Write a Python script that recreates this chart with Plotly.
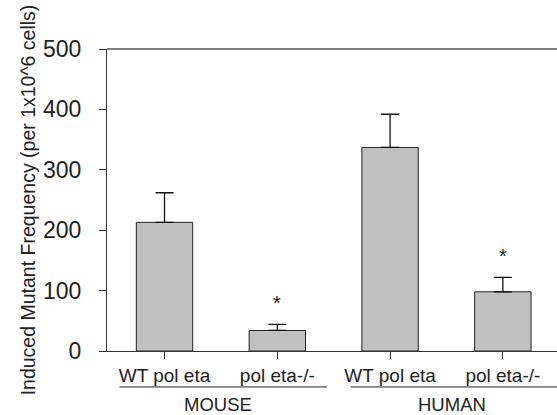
import plotly.graph_objects as go

tick_labels = ["WT pol eta", "pol eta-/-", "WT pol eta", "pol eta-/-"]
values = [213, 34, 337, 98]
errors = [49, 10, 55, 24]
significant = [False, True, False, True]
groups = ["MOUSE", "HUMAN"]
group_centers = [0.47, 2.55]
group_spans = [(-0.4, 1.44), (1.65, 3.6)]
y_ticks = [0, 100, 200, 300, 400, 500]

FONT = "Liberation Sans, Arial, sans-serif"
xpos = list(range(len(values)))

fig = go.Figure()
fig.add_trace(go.Bar(
    x=xpos, y=values, width=0.5,
    marker=dict(color="#c0c0c0", line=dict(color="#222222", width=1)),
    error_y=dict(type="data", symmetric=False, array=errors,
                 arrayminus=[0] * len(errors), color="#111111",
                 thickness=1.3, width=9),
    showlegend=False, hoverinfo="skip",
))

for i, (v, e, s) in enumerate(zip(values, errors, significant)):
    if s:
        fig.add_annotation(x=i, y=v + e, text="*", showarrow=False,
                           yanchor="bottom", yshift=8,
                           font=dict(family=FONT, size=20, color="#222"))

for g, c, (a, b) in zip(groups, group_centers, group_spans):
    fig.add_annotation(x=c, y=-0.178, xref="x", yref="paper", text=g,
                       showarrow=False, yanchor="middle",
                       font=dict(family=FONT, size=18.5, color="#222"))
    fig.add_shape(type="line", xref="x", yref="paper", x0=a, x1=b,
                  y0=-0.119, y1=-0.119, line=dict(color="#222", width=1))

# top border
fig.add_shape(type="line", xref="paper", yref="paper", x0=0, x1=1, y0=1, y1=1,
              line=dict(color="#555", width=1.5))

fig.update_layout(
    width=557, height=415,
    margin=dict(l=107, r=0, t=49, b=64),
    plot_bgcolor="white", paper_bgcolor="white",
    font=dict(family=FONT, color="#222"),
    xaxis=dict(range=[-0.51, 3.48], tickvals=xpos, ticktext=tick_labels,
               showline=True, linecolor="#333", linewidth=1,
               ticks="outside", ticklen=7, tickcolor="#333",
               tickfont=dict(size=19), showgrid=False, zeroline=False,
               fixedrange=True),
    yaxis=dict(range=[0, 500], tickvals=y_ticks,
               showline=True, linecolor="#333", linewidth=1,
               ticks="outside", ticklen=7, tickcolor="#333",
               ticklabelstandoff=13,
               tickfont=dict(size=23), showgrid=False, zeroline=False,
               title=dict(text="Induced Mutant Frequency (per 1x10^6 cells)",
                          font=dict(size=19.5), standoff=2),
               fixedrange=True),
)

fig.write_html(
    "out.html",
    config={"displayModeBar": False},
    post_script="document.body.style.margin='0';document.body.style.overflow='hidden';",
)
